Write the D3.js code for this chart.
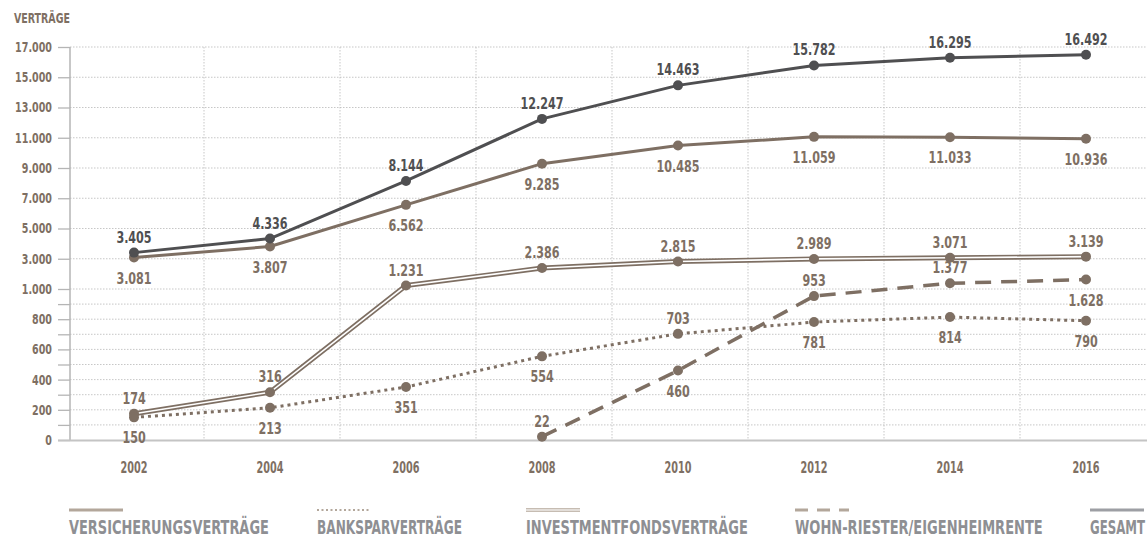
<!DOCTYPE html>
<html>
<head>
<meta charset="utf-8">
<script src="https://cdn.jsdelivr.net/npm/d3@7"></script>
<style>
  body { margin: 0; background: #fff; }
  text { font-family: 'DejaVu Sans Condensed', 'DejaVu Sans', sans-serif; font-weight: bold; }
</style>
</head>
<body>
<script>
'use strict';

// chart data
const years = ['2002', '2004', '2006', '2008', '2010', '2012', '2014', '2016'];
const gesamt = [3405, 4336, 8144, 12247, 14463, 15782, 16295, 16492];
const versicherung = [3081, 3807, 6562, 9285, 10485, 11059, 11033, 10936];
const investment = [174, 316, 1231, 2386, 2815, 2989, 3071, 3139];
const bankspar = [150, 213, 351, 554, 703, 781, 814, 790];
const wohnRiester = [null, null, null, 22, 460, 953, 1377, 1628];
const yTicks = [0, 200, 400, 600, 800, 1000, 3000, 5000, 7000, 9000, 11000, 13000, 15000, 17000];
const yMinorTicks = [100, 300, 500, 700, 900];
const legendNames = ['VERSICHERUNGSVERTRÄGE', 'BANKSPARVERTRÄGE', 'INVESTMENTFONDSVERTRÄGE', 'WOHN-RIESTER/EIGENHEIMRENTE', 'GESAMT'];

// label above (1) or below (-1) the point
const gesamtSide = [1, 1, 1, 1, 1, 1, 1, 1];
const versicherungSide = [-1, -1, -1, -1, -1, -1, -1, -1];
const investmentSide = [1, 1, 1, 1, 1, 1, 1, 1];
const banksparSide = [-1, -1, -1, -1, 1, -1, -1, -1];
const wohnSide = [0, 0, 0, 1, -1, 1, 1, -1];

(function() {

  const brown = '#7e6f63';
  const dark = '#4f4f51';
  const gridColor = '#b9b9b9';
  const fmt = d3.formatLocale({ decimal: ',', thousands: '.', grouping: [3], currency: ['', '€'] }).format(',d');

  let svgContainer = d3.select('body').append('svg')
    .attr('width', 1147)
    .attr('height', 538);

  // x: one band per year, points at the middle
  let xScale = d3.scaleBand().domain(years).range([68, 1156]);
  let xMid = function(d) { return xScale(d) + xScale.bandwidth() / 2 - 2; };

  // y is broken at 1000: lower part 200 per step, upper part 2000 per step
  let yScale = d3.scaleLinear().domain([0, 1000, 17000]).range([440, 289, 47]);

  // squeeze text horizontally (no narrow font here)
  function condense(sel, k) {
    sel.each(function() {
      let t = d3.select(this);
      let x = +t.attr('x') || 0;
      let y = +t.attr('y') || 0;
      t.attr('x', 0).attr('y', 0)
        .attr('transform', 'translate(' + x + ',' + y + ') scale(' + k + ',1)');
    });
  }

  // squeeze text to a given width
  function fitWidth(sel, w) {
    sel.each(function(d, i) {
      let width = typeof w == 'function' ? w(d, i) : w;
      condense(d3.select(this), width / this.getComputedTextLength());
    });
  }

  drawGrid();
  drawAxes();

  let series = [
    { values: investment, side: investmentSide, color: brown, kind: 'double' },
    { values: bankspar, side: banksparSide, color: brown, kind: 'dotted' },
    { values: wohnRiester, side: wohnSide, color: brown, kind: 'dashed' },
    { values: versicherung, side: versicherungSide, color: brown, kind: 'solid' },
    { values: gesamt, side: gesamtSide, color: dark, kind: 'solid' }
  ];
  series.forEach(drawSeries);

  makeLegend();

  // dotted grid lines
  function drawGrid() {
    let grid = svgContainer.append('g');

    grid.selectAll('.hgrid')
      .data(yTicks.concat(yMinorTicks).filter(function(d) { return d > 0; }))
      .enter()
      .append('line')
        .attr('x1', 70).attr('x2', 1147)
        .attr('y1', function(d) { return yScale(d); })
        .attr('y2', function(d) { return yScale(d); })
        .attr('stroke', gridColor)
        .attr('stroke-width', 0.8)
        .attr('stroke-dasharray', '1.5 1.5');

    grid.selectAll('.vgrid')
      .data(years.slice(1))
      .enter()
      .append('line')
        .attr('x1', function(d) { return xScale(d); })
        .attr('x2', function(d) { return xScale(d); })
        .attr('y1', 47).attr('y2', 440)
        .attr('stroke', gridColor)
        .attr('stroke-width', 0.8)
        .attr('stroke-dasharray', '1.5 1.5');
  }

  function drawAxes() {
    // y axis with labelled and unlabelled ticks
    let yAxis = d3.axisLeft(yScale)
      .tickValues(yTicks.concat(yMinorTicks))
      .tickSize(12)
      .tickPadding(6)
      .tickFormat(function(d) { return yMinorTicks.indexOf(d) >= 0 ? '' : fmt(d); });

    let yg = svgContainer.append('g')
      .attr('transform', 'translate(70, 0)')
      .call(yAxis);
    yg.select('.domain').remove();
    yg.selectAll('line').attr('stroke', '#b5b5b5').attr('stroke-width', 1.3);
    yg.selectAll('text')
      .attr('fill', brown)
      .style('font-size', '14px')
      .call(condense, 0.76);

    svgContainer.append('line')
      .attr('x1', 70).attr('x2', 70)
      .attr('y1', 47).attr('y2', 441)
      .attr('stroke', '#b5b5b5')
      .attr('stroke-width', 1.5);

    svgContainer.append('line')
      .attr('x1', 58).attr('x2', 1147)
      .attr('y1', 440.5).attr('y2', 440.5)
      .attr('stroke', '#c4c4c4')
      .attr('stroke-width', 2);

    // x labels, no axis line
    let xAxis = d3.axisBottom(xScale).tickSize(0).tickPadding(0);
    let xg = svgContainer.append('g')
      .attr('transform', 'translate(-2, 473)')
      .call(xAxis);
    xg.select('.domain').remove();
    xg.selectAll('text')
      .attr('dy', 0)
      .attr('fill', brown)
      .style('font-size', '15px')
      .call(condense, 0.72);

    svgContainer.append('text')
      .attr('x', 14)
      .attr('y', 23)
      .attr('fill', brown)
      .style('font-size', '14px')
      .text('VERTRÄGE')
      .call(fitWidth, 56);
  }

  function lineStyle(sel, kind, color, legend) {
    sel.attr('fill', 'none')
      .attr('stroke', color)
      .attr('stroke-linejoin', 'round');
    if (kind == 'solid') {
      sel.attr('stroke-width', 3);
    } else if (kind == 'dotted') {
      sel.attr('stroke-width', legend ? 2 : 3).attr('stroke-dasharray', legend ? '2 2.5' : '3 4');
    } else if (kind == 'dashed') {
      sel.attr('stroke-width', 3.5).attr('stroke-dasharray', legend ? '13 9' : '16 10');
    } else if (kind == 'double') {
      sel.attr('stroke-width', 5);
    }
  }

  function drawSeries(s) {
    let pts = years.map(function(y, i) { return { year: y, value: s.values[i], side: s.side[i] }; })
      .filter(function(d) { return d.value != null; });

    let line = d3.line()
      .x(function(d) { return xMid(d.year); })
      .y(function(d) { return yScale(d.value); });

    let g = svgContainer.append('g');

    g.append('path')
      .datum(pts)
      .attr('d', line)
      .call(lineStyle, s.kind, s.color, false);

    // white core for the double line
    if (s.kind == 'double') {
      g.append('path')
        .datum(pts)
        .attr('d', line)
        .attr('fill', 'none')
        .attr('stroke', '#fff')
        .attr('stroke-width', 1.6);
    }

    g.selectAll('circle')
      .data(pts)
      .enter()
      .append('circle')
        .attr('cx', function(d) { return xMid(d.year); })
        .attr('cy', function(d) { return yScale(d.value); })
        .attr('r', 5)
        .attr('fill', s.color);

    g.selectAll('text')
      .data(pts)
      .enter()
      .append('text')
        .attr('x', function(d) { return xMid(d.year); })
        .attr('y', function(d) { return yScale(d.value) + (d.side > 0 ? -10 : 26); })
        .attr('text-anchor', 'middle')
        .attr('fill', s.color)
        .style('font-size', '15.5px')
        .text(function(d) { return fmt(d.value); })
        .call(condense, 0.8);
  }

  // legend under the chart
  function makeLegend() {
    let legendX = [69, 317, 526, 795, 1090];
    let legendW = [200, 145, 222, 248, 55];
    let legendKinds = ['solid', 'dotted', 'double', 'dashed', 'solid'];
    let legendColors = ['#b3a79b', '#b3a79b', '#c6bcb2', '#b3a79b', '#9d9fa4'];

    let items = svgContainer.selectAll('.legend')
      .data(legendNames)
      .enter()
      .append('g')
        .attr('class', 'legend')
        .attr('transform', function(d, i) { return 'translate(' + legendX[i] + ', 0)'; });

    items.append('path')
      .attr('d', 'M0,510H54')
      .each(function(d, i) { lineStyle(d3.select(this), legendKinds[i], legendColors[i], true); })
      .attr('stroke-width', function(d, i) { return legendKinds[i] == 'double' ? 4 : (legendKinds[i] == 'dotted' ? 2 : 3); });

    items.filter(function(d, i) { return legendKinds[i] == 'double'; })
      .append('path')
        .attr('d', 'M0,510H54')
        .attr('stroke', '#fff')
        .attr('stroke-width', 1.2);

    items.append('text')
      .attr('x', 0)
      .attr('y', 534)
      .attr('fill', '#8e8f93')
      .style('font-size', '19px')
      .text(function(d) { return d; })
      .call(fitWidth, function(d, i) { return legendW[i]; });
  }

})();
</script>
</body>
</html>
